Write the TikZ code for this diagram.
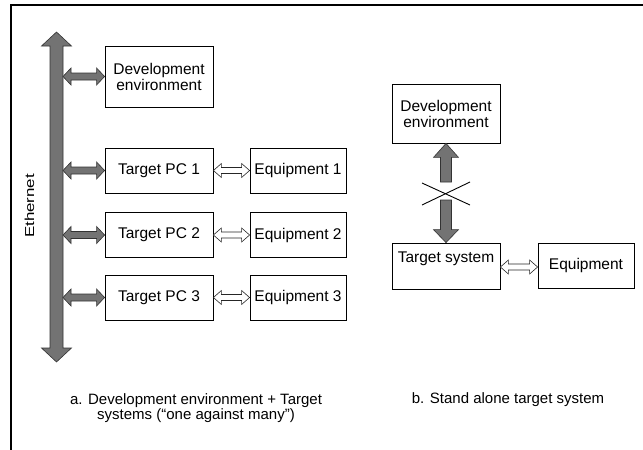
\documentclass[tikz,border=0pt]{standalone}
\usepackage{fontspec}
\setmainfont{Liberation Sans}
\usepackage{graphicx}
\usetikzlibrary{calc}
\tikzset{
  box/.style={draw=black, line width=0.8pt, fill=white, inner sep=0pt, align=center,
              font=\fontsize{15.5}{16}\selectfont},
  captext/.style={align=center, inner sep=0pt, font=\fontsize{15}{13}\selectfont},
  frame/.style={line width=2pt, black},
  gfat/.style={draw=black!80, line width=0.6pt, fill=black!55, line join=miter},
  wfat/.style={draw=black!85, line width=0.6pt, fill=white, line join=miter},
  crossline/.style={line width=0.9pt, black},
  fatboth/.style n args={3}{to path={
    (\tikztostart)
    -- ($(\tikztostart)!#1!(\tikztotarget)!#2!90:(\tikztotarget)$)
    -- ($(\tikztostart)!#1!(\tikztotarget)!#3!90:(\tikztotarget)$)
    -- ($(\tikztotarget)!#1!(\tikztostart)!#3!-90:(\tikztostart)$)
    -- ($(\tikztotarget)!#1!(\tikztostart)!#2!-90:(\tikztostart)$)
    -- (\tikztotarget)
    -- ($(\tikztotarget)!#1!(\tikztostart)!#2!90:(\tikztostart)$)
    -- ($(\tikztotarget)!#1!(\tikztostart)!#3!90:(\tikztostart)$)
    -- ($(\tikztostart)!#1!(\tikztotarget)!#3!-90:(\tikztotarget)$)
    -- ($(\tikztostart)!#1!(\tikztotarget)!#2!-90:(\tikztotarget)$)
    -- cycle}},
  fatone/.style n args={3}{to path={
    ($(\tikztostart)!#3!90:(\tikztotarget)$)
    -- ($(\tikztotarget)!#1!(\tikztostart)!#3!-90:(\tikztostart)$)
    -- ($(\tikztotarget)!#1!(\tikztostart)!#2!-90:(\tikztostart)$)
    -- (\tikztotarget)
    -- ($(\tikztotarget)!#1!(\tikztostart)!#2!90:(\tikztostart)$)
    -- ($(\tikztotarget)!#1!(\tikztostart)!#3!90:(\tikztostart)$)
    -- ($(\tikztostart)!#3!-90:(\tikztotarget)$)
    -- cycle}},
}
\begin{document}
\begin{tikzpicture}[x=1pt,y=-1pt]
\useasboundingbox (0,0) rectangle (643,450);
% frame
\coordinate (fbl) at (11,450);
\coordinate (ftl) at (11,5);
\coordinate (ftr) at (643,5);
\draw[frame] (fbl) -- (ftl) -- (ftr);

% left part: boxes
\node[box, minimum width=108pt, minimum height=61pt] (devL) at (159,76.5) {Development\\environment};
\node[box, minimum width=108pt, minimum height=45pt] (pc1) at (159,170.5) {Target PC 1};
\node[box, minimum width=108pt, minimum height=45pt] (pc2) at (159,235) {Target PC 2};
\node[box, minimum width=108pt, minimum height=45pt] (pc3) at (159,297.5) {Target PC 3};
\node[box, minimum width=96pt, minimum height=45pt] (eq1) at (298,170.5) {Equipment 1};
\node[box, minimum width=96pt, minimum height=45pt] (eq2) at (298,235) {Equipment 2};
\node[box, minimum width=96pt, minimum height=45pt] (eq3) at (298,297.5) {Equipment 3};

% Ethernet bus
\coordinate (busTop) at (56.5,32);
\coordinate (busBot) at (56.5,362);
\draw[gfat] (busTop) to[fatboth={14pt}{15pt}{6.5pt}] (busBot);
\node[rotate=90, inner sep=0pt, font=\fontsize{13}{13}\selectfont] (ethlbl) at (29.5,206) {\scalebox{1.3}[1]{Ethernet}};

\coordinate (busE) at (63,0);
\coordinate (g0) at (busE |- devL.west);
\coordinate (g1) at (busE |- pc1.west);
\coordinate (g2) at (busE |- pc2.west);
\coordinate (g3) at (busE |- pc3.west);
\draw[gfat] (g0) to[fatboth={8pt}{8.5pt}{3.5pt}] (devL.west);
\draw[gfat] (g1) to[fatboth={8pt}{8.5pt}{3.5pt}] (pc1.west);
\draw[gfat] (g2) to[fatboth={8pt}{8.5pt}{3.5pt}] (pc2.west);
\draw[gfat] (g3) to[fatboth={8pt}{8.5pt}{3.5pt}] (pc3.west);

\draw[wfat] (pc1.east) to[fatboth={8pt}{7pt}{3pt}] (eq1.west);
\draw[wfat] (pc2.east) to[fatboth={8pt}{7pt}{3pt}] (eq2.west);
\draw[wfat] (pc3.east) to[fatboth={8pt}{7pt}{3pt}] (eq3.west);

% right part
\node[box, minimum width=108pt, minimum height=59pt] (devR) at (446,113.5) {Development\\environment};
\node[box, minimum width=108pt, minimum height=46pt] (ts) at (446,266) {};
\node[inner sep=0pt, font=\fontsize{15.5}{16}\selectfont] (tslbl) at (446,259) {Target system};
\node[box, minimum width=96pt, minimum height=45pt] (eqR) at (586,265.5) {Equipment};

\coordinate (u1) at (devR.south |- 0,182);
\coordinate (u2) at (devR.south |- 0,200);
\draw[gfat] (u1) to[fatone={14pt}{12.5pt}{5.5pt}] (devR.south);
\draw[gfat] (u2) to[fatone={13pt}{12.5pt}{5.5pt}] (ts.north);

\coordinate (x1) at (422,183);
\coordinate (x2) at (470,205);
\coordinate (x3) at (422,205);
\coordinate (x4) at (470,182);
\draw[crossline] (x1) -- (x2);
\draw[crossline] (x3) -- (x4);

\coordinate (tsE) at (ts.east |- 0,267);
\coordinate (eqRW) at (eqR.west |- 0,267);
\draw[wfat] (tsE) to[fatboth={8pt}{7pt}{3pt}] (eqRW);

% captions
\node[captext] (capa) at (196,408) {a. Development environment + Target\\systems (“one against many”)};
\node[captext] (capb) at (508,400) {b. Stand alone target system};
\end{tikzpicture}
\end{document}
